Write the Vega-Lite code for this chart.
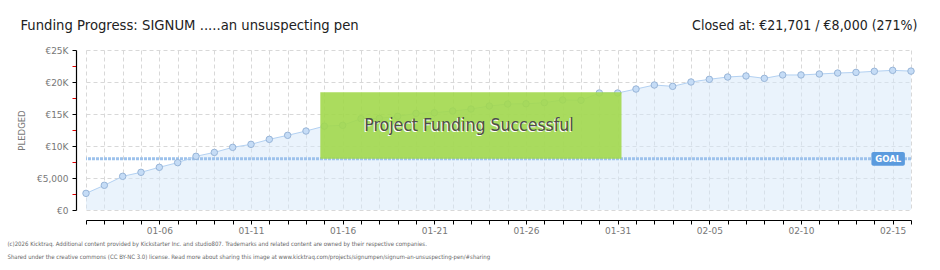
{
  "$schema": "https://vega.github.io/schema/vega-lite/v6.json",
  "width": 825,
  "height": 160,
  "autosize": {"type": "none"},
  "padding": {"left": 86, "top": 50, "right": 29, "bottom": 60},
  "background": "white",
  "config": {"view": {"stroke": null}, "font": "DejaVu Sans"},
  "datasets": {
    "pledges": [
      {"date": "2026-01-02", "pledged": 2600},
      {"date": "2026-01-03", "pledged": 3860},
      {"date": "2026-01-04", "pledged": 5260},
      {"date": "2026-01-05", "pledged": 5890},
      {"date": "2026-01-06", "pledged": 6670},
      {"date": "2026-01-07", "pledged": 7400},
      {"date": "2026-01-08", "pledged": 8390},
      {"date": "2026-01-09", "pledged": 9000},
      {"date": "2026-01-10", "pledged": 9790},
      {"date": "2026-01-11", "pledged": 10260},
      {"date": "2026-01-12", "pledged": 11040},
      {"date": "2026-01-13", "pledged": 11670},
      {"date": "2026-01-14", "pledged": 12340},
      {"date": "2026-01-15", "pledged": 13100},
      {"date": "2026-01-16", "pledged": 13230},
      {"date": "2026-01-17", "pledged": 14270},
      {"date": "2026-01-18", "pledged": 14320},
      {"date": "2026-01-19", "pledged": 14640},
      {"date": "2026-01-20", "pledged": 15100},
      {"date": "2026-01-21", "pledged": 15200},
      {"date": "2026-01-22", "pledged": 15470},
      {"date": "2026-01-23", "pledged": 15780},
      {"date": "2026-01-24", "pledged": 16250},
      {"date": "2026-01-25", "pledged": 16560},
      {"date": "2026-01-26", "pledged": 16600},
      {"date": "2026-01-27", "pledged": 16770},
      {"date": "2026-01-28", "pledged": 17190},
      {"date": "2026-01-29", "pledged": 17140},
      {"date": "2026-01-30", "pledged": 18280},
      {"date": "2026-01-31", "pledged": 18280},
      {"date": "2026-02-01", "pledged": 18900},
      {"date": "2026-02-02", "pledged": 19530},
      {"date": "2026-02-03", "pledged": 19320},
      {"date": "2026-02-04", "pledged": 20000},
      {"date": "2026-02-05", "pledged": 20420},
      {"date": "2026-02-06", "pledged": 20780},
      {"date": "2026-02-07", "pledged": 20940},
      {"date": "2026-02-08", "pledged": 20570},
      {"date": "2026-02-09", "pledged": 21100},
      {"date": "2026-02-10", "pledged": 21100},
      {"date": "2026-02-11", "pledged": 21250},
      {"date": "2026-02-12", "pledged": 21400},
      {"date": "2026-02-13", "pledged": 21500},
      {"date": "2026-02-14", "pledged": 21670},
      {"date": "2026-02-15", "pledged": 21820},
      {"date": "2026-02-16", "pledged": 21701}
    ]
  },
  "resolve": {"axis": {"x": "independent", "y": "independent"}},
  "layer": [
    {
      "data": {"name": "pledges"},
      "mark": {"type": "area", "color": "#d6e7fa", "opacity": 0.5},
      "encoding": {
        "x": {
          "field": "date", "type": "temporal",
          "scale": {"type": "utc", "nice": false, "domain": [{"year": 2026, "month": 1, "date": 2, "utc": true}, {"year": 2026, "month": 2, "date": 16, "utc": true}]},
          "axis": {
            "orient": "bottom", "offset": 10,
            "domainColor": "#000", "domainWidth": 1.2,
            "tickColor": "#000", "tickSize": 4, "tickWidth": 1,
            "tickCount": {"interval": "day", "step": 1},
            "labelExpr": "utcdayofyear(datum.value) % 5 == 1 ? utcFormat(datum.value, '%m-%d') : ''",
            "labelFont": "DejaVu Sans", "labelFontSize": 9, "labelColor": "#777", "labelPadding": 2,
            "labelOverlap": false, "labelFlush": false,
            "grid": true, "gridColor": "#d8d8d8", "gridDash": [4, 3],
            "title": ["(c)2026 Kicktraq. Additional content provided by Kickstarter Inc. and studio807. Trademarks and related content are owned by their respective companies.", "Shared under the creative commons (CC BY-NC 3.0) license. Read more about sharing this image at www.kicktraq.com/projects/signumpen/signum-an-unsuspecting-pen/#sharing"],
            "titleX": -79, "titleY": 25, "titleAlign": "left", "titleAnchor": null, "titleBaseline": "alphabetic",
            "titleFont": "DejaVu Sans Condensed", "titleFontSize": 6, "titleColor": "#666", "titleFontWeight": "normal", "titleLineHeight": 13.5, "titleLimit": 1000
          }
        },
        "y": {
          "field": "pledged", "type": "quantitative",
          "scale": {"domain": [0, 25000], "nice": false},
          "axis": {
            "orient": "left", "offset": 10,
            "values": [0, 2500, 5000, 7500, 10000, 12500, 15000, 17500, 20000, 22500, 25000],
            "labelExpr": "datum.value % 5000 != 0 ? '' : datum.value == 0 ? '€0' : datum.value == 5000 ? '€5,000' : '€' + (datum.value / 1000) + 'K'",
            "tickColor": {"condition": {"test": "datum.value % 5000 != 0", "value": "#e00000"}, "value": "#000"},
            "gridOpacity": {"condition": {"test": "datum.value % 5000 != 0", "value": 0}, "value": 1},
            "grid": true, "gridColor": "#d8d8d8", "gridDash": [4, 3],
            "domainColor": "#000", "domainWidth": 1.2, "tickSize": 4,
            "labelFont": "DejaVu Sans", "labelFontSize": 9, "labelColor": "#777", "labelPadding": 4,
            "title": "PLEDGED", "titleFont": "DejaVu Sans", "titleFontSize": 8.5, "titleColor": "#777", "titleFontWeight": "normal", "titlePadding": 10
          }
        }
      }
    },
    {
      "data": {"values": [{"goal": 8000}]},
      "mark": {"type": "rule", "color": "#9dc2ec", "strokeWidth": 3, "strokeDash": [3, 1]},
      "encoding": {"y": {"field": "goal", "type": "quantitative", "axis": null}}
    },
    {
      "data": {"name": "pledges"},
      "mark": {"type": "line", "color": "#b3d1f2", "strokeWidth": 1},
      "encoding": {
        "x": {"field": "date", "type": "temporal", "axis": null},
        "y": {"field": "pledged", "type": "quantitative", "axis": null}
      }
    },
    {
      "data": {"name": "pledges"},
      "mark": {"type": "point", "filled": true, "size": 42, "fill": "#c5dcf6", "stroke": "#98b5d8", "strokeWidth": 1, "opacity": 1},
      "encoding": {
        "x": {"field": "date", "type": "temporal", "axis": null},
        "y": {"field": "pledged", "type": "quantitative", "axis": null}
      }
    },
    {
      "data": {"values": [{"start": "2026-01-14T18:45:00Z", "end": "2026-01-31T05:00:00Z", "low": 8000, "high": 18400}]},
      "mark": {"type": "rect", "color": "#a2d84c", "opacity": 0.9},
      "encoding": {
        "x": {"field": "start", "type": "temporal", "axis": null},
        "x2": {"field": "end"},
        "y": {"field": "low", "type": "quantitative", "axis": null},
        "y2": {"field": "high"}
      }
    },
    {
      "data": {"values": [{"mid": "2026-01-22T21:20:00Z", "yv": 13125, "label": "Project Funding Successful"}]},
      "mark": {"type": "text", "color": "#ffffff", "dx": -1, "dy": 1, "font": "DejaVu Sans Condensed", "fontSize": 17.5, "baseline": "middle", "align": "center"},
      "encoding": {
        "x": {"field": "mid", "type": "temporal", "axis": null},
        "y": {"field": "yv", "type": "quantitative", "axis": null},
        "text": {"field": "label"}
      }
    },
    {
      "data": {"values": [{"mid": "2026-01-22T21:20:00Z", "yv": 13125, "label": "Project Funding Successful"}]},
      "mark": {"type": "text", "color": "#4d4d4d", "font": "DejaVu Sans Condensed", "fontSize": 17.5, "baseline": "middle", "align": "center"},
      "encoding": {
        "x": {"field": "mid", "type": "temporal", "axis": null},
        "y": {"field": "yv", "type": "quantitative", "axis": null},
        "text": {"field": "label"}
      }
    },
    {
      "data": {"values": [{"start": "2026-02-13T20:10:00Z", "end": "2026-02-15T16:00:00Z", "low": 6920, "high": 9060}]},
      "mark": {"type": "rect", "color": "#5b9bde", "cornerRadius": 2},
      "encoding": {
        "x": {
          "field": "start", "type": "temporal",
          "axis": {
            "orient": "top", "domain": false, "ticks": false, "labels": false, "grid": false,
            "title": "Funding Progress: SIGNUM .....an unsuspecting pen",
            "titleX": -66, "titleY": -21, "titleAlign": "left", "titleAnchor": null, "titleBaseline": "alphabetic",
            "titleFont": "DejaVu Sans Condensed", "titleFontSize": 14.7, "titleFontWeight": "normal", "titleColor": "#222", "titleLimit": 1000
          }
        },
        "x2": {"field": "end"},
        "y": {
          "field": "low", "type": "quantitative",
          "axis": {
            "orient": "right", "domain": false, "ticks": false, "labels": false, "grid": false,
            "title": "Closed at:  €21,701 /  €8,000 (271%)",
            "titleAngle": 0, "titleX": 6, "titleY": -21, "titleAlign": "right", "titleAnchor": null, "titleBaseline": "alphabetic",
            "titleFont": "DejaVu Sans Condensed", "titleFontSize": 14, "titleFontWeight": "normal", "titleColor": "#222", "titleLimit": 1000
          }
        },
        "y2": {"field": "high"}
      }
    },
    {
      "data": {"values": [{"mid": "2026-02-14T18:15:00Z", "yv": 7950, "label": "GOAL"}]},
      "mark": {"type": "text", "color": "#ffffff", "font": "DejaVu Sans", "fontSize": 8.5, "fontWeight": "bold", "baseline": "middle", "align": "center"},
      "encoding": {
        "x": {"field": "mid", "type": "temporal", "axis": null},
        "y": {"field": "yv", "type": "quantitative", "axis": null},
        "text": {"field": "label"}
      }
    }
  ]
}
